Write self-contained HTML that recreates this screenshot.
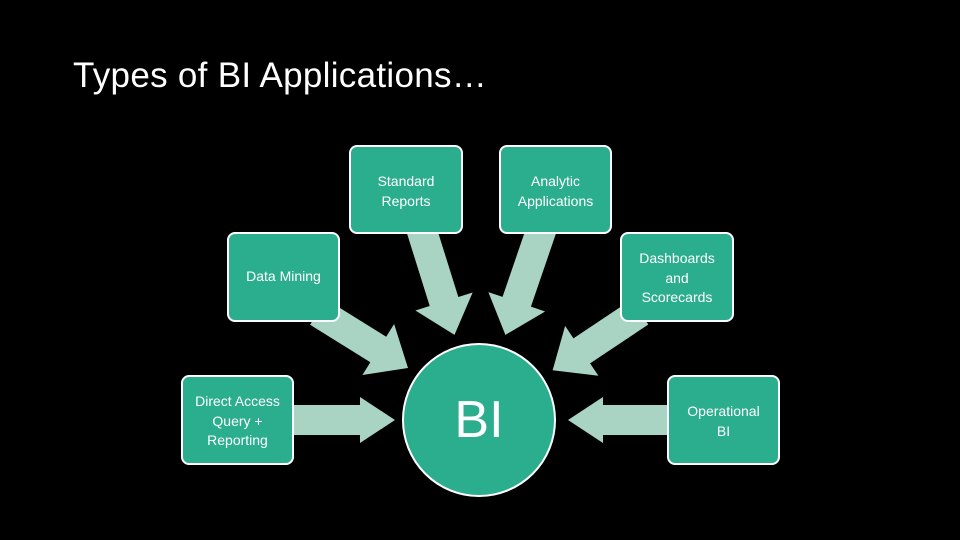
<!DOCTYPE html>
<html><head><meta charset="utf-8"><style>
body{margin:0;background:#000;width:960px;height:540px;overflow:hidden;position:relative;font-family:"Liberation Sans",sans-serif}
.t{position:absolute;left:73px;top:56px;color:#fff;font-size:35px;letter-spacing:0.3px}
.b{position:absolute;width:110px;height:86px;background:#2bae8e;border:2px solid #fff;border-radius:8px;color:#fff;font-size:14px;line-height:19.5px;text-align:center;box-sizing:border-box;display:flex;justify-content:center;padding:0 4px}
.c{position:absolute;left:402px;top:343px;width:154px;height:154px;border-radius:50%;background:#2bae8e;border:2px solid #fff;box-sizing:border-box;color:#fff;font-size:52px;display:flex;align-items:center;justify-content:center}
svg{position:absolute;left:0;top:0}
</style></head><body>
<div class="t">Types of BI Applications…</div>
<svg width="960" height="540">
<g fill="#a9d4c4">
<polygon transform="translate(421,228) rotate(72.6)" points="0,-15 77,-15 77,-30 112,0 77,30 77,15 0,15"/>
<polygon transform="translate(542,228) rotate(108.9)" points="0,-15 78,-15 78,-30 113,0 78,30 78,15 0,15"/>
<polygon transform="translate(318,312) rotate(31.9)" points="0,-15 71,-15 71,-30 106,0 71,30 71,15 0,15"/>
<polygon transform="translate(640,312) rotate(146.3)" points="0,-15 70,-15 70,-30 105,0 70,30 70,15 0,15"/>
<polygon transform="translate(290,420)" points="0,-15 70,-15 70,-23 105,0 70,23 70,15 0,15"/>
<polygon transform="translate(670,420) rotate(180)" points="0,-15 67,-15 67,-23 102,0 67,23 67,15 0,15"/>
</g></svg>
<div class="b" style="left:349px;top:145px;width:114px;height:89px;padding-top:25px">Standard<br>Reports</div>
<div class="b" style="left:499px;top:145px;width:113px;height:89px;padding-top:25px">Analytic<br>Applications</div>
<div class="b" style="left:227px;top:232px;width:113px;height:90px;align-items:center">Data Mining</div>
<div class="b" style="left:620px;top:232px;width:114px;height:90px;padding-top:15px">Dashboards<br>and<br>Scorecards</div>
<div class="b" style="left:181px;top:375px;width:113px;height:90px;padding-top:15px">Direct Access<br>Query +<br>Reporting</div>
<div class="b" style="left:667px;top:375px;width:113px;height:90px;padding-top:25px">Operational<br>BI</div>
<div class="c">BI</div>
</body></html>
